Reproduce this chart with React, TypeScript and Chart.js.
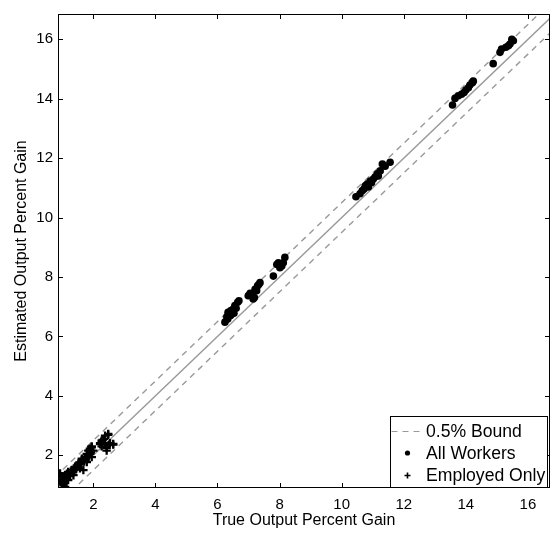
import { useEffect, useRef } from "react";
import { Chart, registerables } from "chart.js";

Chart.register(...registerables);

// Axis extents and tick positions
const xRange = [0.863, 16.71];
const yRange = [0.9, 16.85];
const xTicks = [2, 4, 6, 8, 10, 12, 14, 16];
const yTicks = [2, 4, 6, 8, 10, 12, 14, 16];

// Reference diagonal (estimated = true) and the +/- bound around it
const diagonalX = [0, 17];
const boundOffset = 0.5;

const xTitle = "True Output Percent Gain";
const yTitle = "Estimated Output Percent Gain";
const legendLabels = ["0.5% Bound", "All Workers", "Employed Only"];

// All workers: true vs. estimated output gain
const allWorkersTrue = [
  6.24, 6.33, 6.40, 6.34, 6.43, 6.43, 6.51, 6.53, 6.56, 6.60, 6.65, 6.69, 6.30, 6.47,
  6.99, 7.05, 7.10, 7.15, 7.19, 7.21, 7.26, 7.29, 7.33, 7.37,
  7.80, 7.91, 7.96, 8.01, 8.07, 8.12, 8.17,
  10.46, 10.59, 10.66, 10.72, 10.76, 10.82, 10.86, 10.92, 10.96, 11.02, 11.08, 11.15, 11.18,
  11.24, 11.31, 11.40, 11.56,
  13.57, 13.65, 13.76, 13.86, 13.94, 14.00, 14.08, 14.13, 14.21, 14.24,
  14.88, 15.10, 15.15, 15.29, 15.37, 15.42, 15.48, 15.53,
];
const allWorkersEst = [
  6.48, 6.59, 6.70, 6.81, 6.71, 6.87, 6.92, 6.78, 7.04, 6.95, 7.15, 7.20, 6.66, 6.83,
  7.37, 7.45, 7.42, 7.26, 7.31, 7.59, 7.54, 7.70, 7.75, 7.81,
  8.03, 8.42, 8.48, 8.31, 8.37, 8.48, 8.66,
  10.70, 10.80, 10.90, 10.96, 11.07, 11.13, 11.03, 11.23, 11.17, 11.30, 11.37, 11.47, 11.40,
  11.57, 11.80, 11.73, 11.86,
  13.79, 14.01, 14.10, 14.15, 14.21, 14.29, 14.37, 14.46, 14.54, 14.59,
  15.18, 15.56, 15.67, 15.73, 15.78, 15.84, 16.00, 15.95,
];

// Employed only: true vs. estimated output gain
const employedTrue = [
  0.93, 0.98, 0.98, 1.03, 1.04, 1.09, 1.09, 1.19, 1.19, 1.25, 1.30, 1.36, 1.36, 1.41,
  1.47, 1.52, 1.57, 1.63, 1.63, 1.68, 1.73, 1.79, 1.79, 1.84, 1.89, 1.89, 1.95, 1.95,
  1.95, 2.00, 2.22, 2.22, 2.27, 2.27, 2.30, 2.38, 2.38, 2.43, 2.43, 2.48, 2.48, 2.54,
  2.64, 2.64, 1.00, 1.12, 1.45, 1.70, 1.85,
  1.15, 1.27, 1.33, 1.50, 1.55, 1.60, 1.75, 1.82, 1.92, 2.35, 2.50, 0.95, 1.05,
];
const employedEst = [
  1.39, 1.26, 1.17, 1.06, 1.00, 0.94, 1.33, 1.44, 1.17, 1.30, 1.50, 1.33, 1.50, 1.61,
  1.66, 1.72, 1.56, 1.83, 1.89, 1.50, 1.94, 1.77, 2.05, 2.16, 2.05, 2.22, 1.94, 2.27,
  2.30, 2.16, 2.41, 2.38, 2.30, 2.49, 2.52, 2.41, 2.66, 2.25, 2.16, 2.69, 2.72, 2.41,
  2.36, 2.38, 1.30, 1.22, 1.55, 1.80, 1.95,
  1.38, 1.45, 1.42, 1.62, 1.75, 1.70, 1.88, 2.00, 2.10, 2.55, 2.35, 1.10, 1.20,
];

const FONT = "'Liberation Sans', Arial, Helvetica, sans-serif";
const LINE_GRAY = "#999999";
const DASH = [6, 5];

const toPoints = (xs: number[], ys: number[]) => xs.map((x, i) => ({ x, y: ys[i] }));
const diagonal = (offset: number) => diagonalX.map((x) => ({ x, y: x + offset }));

// Box around the plot, inward ticks on all four sides, and the boxed legend
const frameLegendPlugin = {
  id: "frameLegend",
  afterDraw(chart: any) {
    const ctx: CanvasRenderingContext2D = chart.ctx;
    const { left, right, top, bottom } = chart.chartArea;
    const xs = chart.scales.x;
    const ys = chart.scales.y;
    ctx.save();
    ctx.strokeStyle = "#000";
    ctx.lineWidth = 1;
    ctx.strokeRect(left + 0.5, top + 0.5, right - left - 1, bottom - top - 1);

    const tickLen = 5;
    ctx.beginPath();
    for (const v of xTicks) {
      const px = Math.round(xs.getPixelForValue(v)) + 0.5;
      ctx.moveTo(px, bottom);
      ctx.lineTo(px, bottom - tickLen);
      ctx.moveTo(px, top);
      ctx.lineTo(px, top + tickLen);
    }
    for (const v of yTicks) {
      const py = Math.round(ys.getPixelForValue(v)) + 0.5;
      ctx.moveTo(left, py);
      ctx.lineTo(left + tickLen, py);
      ctx.moveTo(right, py);
      ctx.lineTo(right - tickLen, py);
    }
    ctx.stroke();

    // legend box
    const boxW = 157;
    const boxH = 71;
    const bx = right - 3 - boxW + 0.5;
    const by = bottom - 1 - boxH + 0.5;
    ctx.fillStyle = "#fff";
    ctx.fillRect(bx, by, boxW, boxH);
    ctx.strokeStyle = "#000";
    ctx.strokeRect(bx, by, boxW, boxH);

    const rowY = [by + 14.5, by + 36.5, by + 59];
    const textX = bx + 35.5;
    const symX = bx + 17;

    // dashed bound sample
    ctx.beginPath();
    ctx.strokeStyle = LINE_GRAY;
    ctx.lineWidth = 1.2;
    ctx.setLineDash(DASH);
    ctx.moveTo(bx + 1, Math.round(rowY[0]) + 0.5);
    ctx.lineTo(bx + 34, Math.round(rowY[0]) + 0.5);
    ctx.stroke();
    ctx.setLineDash([]);

    // dot sample
    ctx.fillStyle = "#000";
    ctx.beginPath();
    ctx.arc(symX, rowY[1], 2.6, 0, Math.PI * 2);
    ctx.fill();

    // plus sample
    ctx.strokeStyle = "#000";
    ctx.lineWidth = 1.6;
    ctx.beginPath();
    ctx.moveTo(symX - 3, rowY[2]);
    ctx.lineTo(symX + 3, rowY[2]);
    ctx.moveTo(symX, rowY[2] - 3);
    ctx.lineTo(symX, rowY[2] + 3);
    ctx.stroke();

    ctx.fillStyle = "#000";
    ctx.font = `17.6px ${FONT}`;
    ctx.textBaseline = "middle";
    ctx.textAlign = "left";
    legendLabels.forEach((label, i) => ctx.fillText(label, textX, rowY[i] + 1));
    ctx.restore();
  },
};

export default function App() {
  const canvasRef = useRef<HTMLCanvasElement | null>(null);

  useEffect(() => {
    const canvas = canvasRef.current;
    if (!canvas) return;
    const chart = new Chart(canvas, {
      type: "scatter",
      data: {
        datasets: [
          {
            label: legendLabels[2],
            data: toPoints(employedTrue, employedEst),
            pointStyle: "cross",
            pointRadius: 4.2,
            pointBorderWidth: 2.3,
            borderColor: "#000",
            backgroundColor: "#000",
            order: 0,
          },
          {
            label: legendLabels[1],
            data: toPoints(allWorkersTrue, allWorkersEst),
            pointStyle: "circle",
            pointRadius: 3.8,
            pointBorderWidth: 0,
            borderColor: "#000",
            backgroundColor: "#000",
            order: 1,
          },
          {
            label: "diagonal",
            data: diagonal(0),
            showLine: true,
            pointRadius: 0,
            borderColor: LINE_GRAY,
            borderWidth: 1.4,
            order: 2,
          },
          {
            label: legendLabels[0],
            data: diagonal(boundOffset),
            showLine: true,
            pointRadius: 0,
            borderColor: LINE_GRAY,
            borderWidth: 1.4,
            borderDash: DASH,
            order: 3,
          },
          {
            label: legendLabels[0] + " (lower)",
            data: diagonal(-boundOffset),
            showLine: true,
            pointRadius: 0,
            borderColor: LINE_GRAY,
            borderWidth: 1.4,
            borderDash: DASH,
            order: 4,
          },
        ],
      },
      options: {
        responsive: false,
        animation: false,
        events: [],
        layout: { padding: { top: 8, right: 4, left: 0, bottom: 0 }, autoPadding: false },
        plugins: {
          legend: { display: false },
          tooltip: { enabled: false },
        },
        scales: {
          x: {
            type: "linear",
            min: xRange[0],
            max: xRange[1],
            grid: { display: false, drawTicks: false },
            border: { display: false },
            afterBuildTicks: (s: any) => {
              s.ticks = xTicks.map((value) => ({ value }));
            },
            afterFit: (s: any) => {
              s.height = 45;
            },
            ticks: {
              color: "#000",
              padding: 8,
              font: { family: FONT, size: 15 },
              maxRotation: 0,
              autoSkip: false,
            },
            title: {
              display: true,
              text: xTitle,
              color: "#000",
              font: { family: FONT, size: 16 },
              padding: { top: 0, bottom: 3 },
            },
          },
          y: {
            type: "linear",
            min: yRange[0],
            max: yRange[1],
            grid: { display: false, drawTicks: false },
            border: { display: false },
            afterBuildTicks: (s: any) => {
              s.ticks = yTicks.map((value) => ({ value }));
            },
            afterFit: (s: any) => {
              s.width = 58;
            },
            ticks: {
              color: "#000",
              padding: 5,
              font: { family: FONT, size: 15 },
              autoSkip: false,
            },
            title: {
              display: true,
              text: yTitle,
              color: "#000",
              font: { family: FONT, size: 16 },
              padding: { top: 12, bottom: 0 },
            },
          },
        },
      },
      plugins: [frameLegendPlugin],
    });
    return () => chart.destroy();
  }, []);

  return (
    <div style={{ position: "fixed", left: 0, top: 0, width: 554, height: 533, background: "#fff" }}>
      <canvas ref={canvasRef} width={554} height={533} style={{ display: "block" }} />
    </div>
  );
}
